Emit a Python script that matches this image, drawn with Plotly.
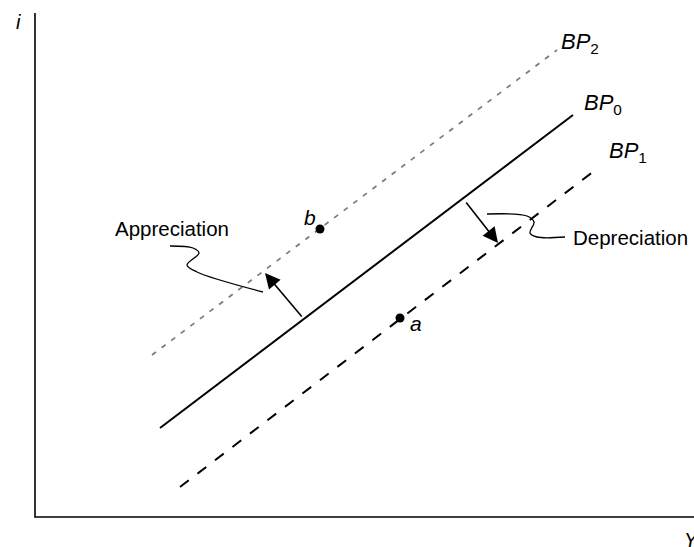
import plotly.graph_objects as go

# Conceptual coordinates: X = income Y, I = interest rate i (origin at axes corner)
bp0_x = [125, 538]
bp0_i = [89, 402]
bp1_x = [145, 563]
bp1_i = [30, 349]
bp2_x = [117, 522]
bp2_i = [162, 467]

point_names = ["a", "b"]
point_x = [365, 285]
point_i = [199, 288]

appr_leader_x = [135, 158, 164, 152, 162, 228]
appr_leader_i = [271, 269, 264, 252, 245, 225]
depr_leader_x = [452, 492, 499, 495, 502, 530]
depr_leader_i = [303, 301, 295, 284, 280, 280]

axis_x_end = 659
axis_i_end = 504

FONT = "Liberation Sans, Arial, sans-serif"

fig = go.Figure()

# axes
fig.add_trace(go.Scatter(x=[0, 0, axis_x_end], y=[axis_i_end, 0, 0], mode="lines",
                         line=dict(color="black", width=1.6), hoverinfo="skip"))
# BP curves
fig.add_trace(go.Scatter(x=bp2_x, y=bp2_i, mode="lines",
                         line=dict(color="#7a7a7a", width=1.7, dash="5px,7px"), hoverinfo="skip"))
fig.add_trace(go.Scatter(x=bp0_x, y=bp0_i, mode="lines",
                         line=dict(color="black", width=2), hoverinfo="skip"))
fig.add_trace(go.Scatter(x=bp1_x, y=bp1_i, mode="lines",
                         line=dict(color="black", width=2, dash="11px,11px"), hoverinfo="skip"))
# leaders
fig.add_trace(go.Scatter(x=appr_leader_x, y=appr_leader_i, mode="lines",
                         line=dict(color="black", width=1.3, shape="spline", smoothing=1.0), hoverinfo="skip"))
fig.add_trace(go.Scatter(x=depr_leader_x, y=depr_leader_i, mode="lines",
                         line=dict(color="black", width=1.3, shape="spline", smoothing=1.0), hoverinfo="skip"))
# points
fig.add_trace(go.Scatter(x=point_x, y=point_i, mode="markers",
                         marker=dict(color="black", size=9), hoverinfo="skip"))

ann = []
# arrows
ann.append(dict(x=230, y=244, ax=268, ay=199, xref="x", yref="y", axref="x", ayref="y",
                showarrow=True, arrowhead=2, arrowsize=1.9, arrowwidth=1.6, arrowcolor="black", text=""))
ann.append(dict(x=463, y=274, ax=430, ay=316, xref="x", yref="y", axref="x", ayref="y",
                showarrow=True, arrowhead=2, arrowsize=1.9, arrowwidth=1.6, arrowcolor="black", text=""))

def label(x, y, text, size=20, xanchor="center", yanchor="middle"):
    ann.append(dict(x=x, y=y, xref="x", yref="y", text=text, showarrow=False,
                    xanchor=xanchor, yanchor=yanchor, font=dict(family=FONT, size=size, color="black")))

label(545, 474, "<i>BP</i><sub>2</sub>", 22)
label(568, 413, "<i>BP</i><sub>0</sub>", 22)
label(593, 365, "<i>BP</i><sub>1</sub>", 22)
label(137, 289, "Appreciation", 20.5)
label(536, 280, "Depreciation", 20.5, xanchor="left")
label(point_x[0] + 16, point_i[0] - 5, "<i>a</i>", 21)
label(point_x[1] - 10, point_i[1] + 12, "<i>b</i>", 21)
label(-17, 495, "<i>i</i>", 20)
label(647, -23, "<i>Y</i>", 20, xanchor="left")

fig.update_layout(
    width=694, height=547, margin=dict(l=0, r=0, t=0, b=0),
    paper_bgcolor="white", plot_bgcolor="white", showlegend=False,
    xaxis=dict(range=[-35, 659], visible=False, fixedrange=True),
    yaxis=dict(range=[-30, 517], visible=False, fixedrange=True),
    annotations=ann,
)
fig.write_html("out.html", config={"displayModeBar": False},
               post_script="document.body.style.margin='0';document.body.style.overflow='hidden';")
